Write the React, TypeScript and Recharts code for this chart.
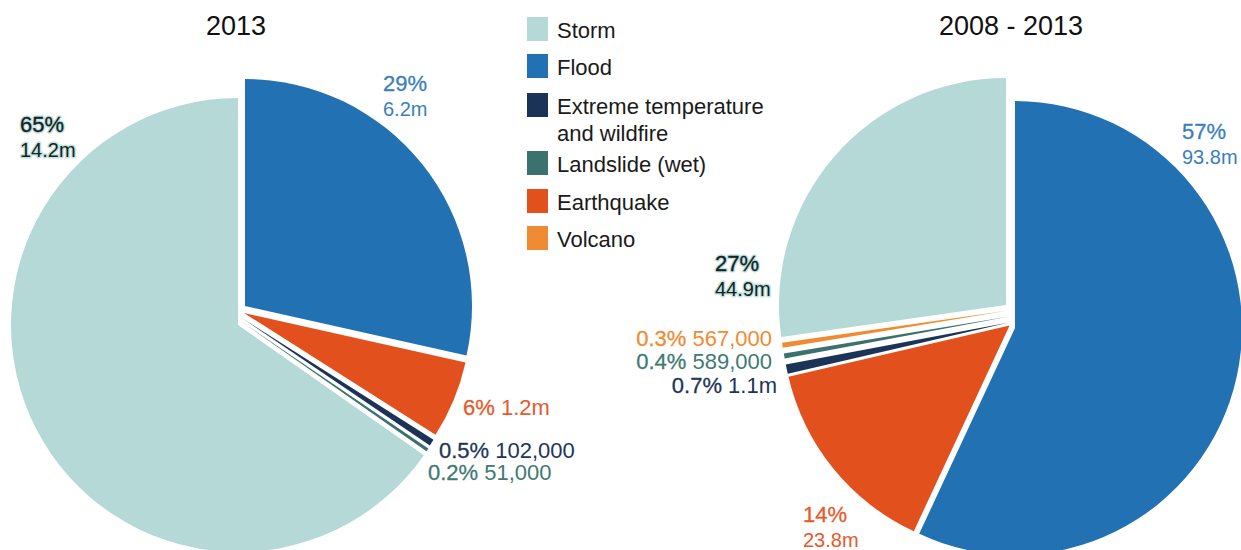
import React from "react";
import { PieChart, Pie, Cell, Sector } from "recharts";

// legend order
const categories = ["Storm", "Flood", "Extreme temperature and wildfire", "Landslide (wet)", "Earthquake", "Volcano"];

// 2013, clockwise from 12 o'clock (people displaced, millions)
const slices2013 = ["Flood", "Earthquake", "Extreme temperature and wildfire", "Landslide (wet)", "Storm"];
const displaced2013 = [6.2, 1.2, 0.102, 0.051, 14.2];
const share2013 = ["29%", "6%", "0.5%", "0.2%", "65%"];
const count2013 = ["6.2m", "1.2m", "102,000", "51,000", "14.2m"];

// 2008 - 2013
const slices0813 = ["Flood", "Earthquake", "Extreme temperature and wildfire", "Landslide (wet)", "Volcano", "Storm"];
const displaced0813 = [93.8, 23.8, 1.1, 0.589, 0.567, 44.9];
const share0813 = ["57%", "14%", "0.7%", "0.4%", "0.3%", "27%"];
const count0813 = ["93.8m", "23.8m", "1.1m", "589,000", "567,000", "44.9m"];

const COLORS: Record<string, string> = {
  Storm: "#b5d9d7",
  Flood: "#2271b3",
  "Extreme temperature and wildfire": "#1b3357",
  "Landslide (wet)": "#3b726d",
  Earthquake: "#e2511d",
  Volcano: "#ef8c33",
};

const TEXT_COLORS: Record<string, string> = {
  Storm: "#112420",
  Flood: "#3a7ec1",
  "Extreme temperature and wildfire": "#1d3559",
  "Landslide (wet)": "#3f7a74",
  Earthquake: "#e8592a",
  Volcano: "#ef8c33",
};

// small nudges that pull the sectors apart
const NUDGE_2013: Record<string, [number, number]> = {
  Flood: [4, -10],
  Earthquake: [3, -3],
  "Extreme temperature and wildfire": [1, 2],
  "Landslide (wet)": [-0.5, 5],
  Storm: [-3, 9],
};
const NUDGE_0813: Record<string, [number, number]> = {
  Flood: [4, 12],
  Earthquake: [-1.4, 9.5],
  "Extreme temperature and wildfire": [-2.1, 6.6],
  "Landslide (wet)": [-3.2, 0.7],
  Volcano: [-4.2, -5.2],
  Storm: [-5, -11],
};

type LabelSpot = { x: number; y: number; stack?: boolean; anchor?: "start" | "end" };
const LABELS_2013: LabelSpot[] = [
  { x: 383, y: 91, stack: true },
  { x: 463, y: 415 },
  { x: 439, y: 458 },
  { x: 428, y: 480 },
  { x: 20, y: 132, stack: true },
];
const LABELS_0813: LabelSpot[] = [
  { x: 1182, y: 139, stack: true },
  { x: 803, y: 522, stack: true },
  { x: 777, y: 393, anchor: "end" },
  { x: 772, y: 369, anchor: "end" },
  { x: 772, y: 346, anchor: "end" },
  { x: 715, y: 271, stack: true },
];

const LEGEND_TOPS = [17, 54, 93, 151, 189, 226];
const FONT = "'Liberation Sans', Arial, sans-serif";

const data2013 = slices2013.map((name, i) => ({ name, value: displaced2013[i] }));
const data0813 = slices0813.map((name, i) => ({ name, value: displaced0813[i] }));

function nudgedSector(nudge: Record<string, [number, number]>) {
  return (props: any) => {
    const [dx, dy] = nudge[props.name] ?? [0, 0];
    return <Sector {...props} cx={props.cx + dx} cy={props.cy + dy} stroke="none" />;
  };
}

function sliceLabel(names: string[], spots: LabelSpot[], shares: string[], counts: string[]) {
  return (props: any) => {
    const i = props.index;
    const spot = spots[i];
    const name = names[i];
    const color = TEXT_COLORS[name];
    const halo = name === "Storm";
    const anchor = spot.anchor ?? "start";
    const lines = (fill: string, stroke: string, sw: number, pw: number) =>
      spot.stack ? (
        <>
          <text x={spot.x} y={spot.y} fontSize={22} fill={fill} stroke={stroke} strokeWidth={pw} strokeLinejoin="round" paintOrder="stroke">
            {shares[i]}
          </text>
          <text x={spot.x} y={spot.y + 25} fontSize={20} fill={fill} stroke={stroke} strokeWidth={sw} strokeLinejoin="round" paintOrder="stroke">
            {counts[i]}
          </text>
        </>
      ) : (
        <text x={spot.x} y={spot.y} textAnchor={anchor} fill={fill} fontSize={22}>
          <tspan stroke={stroke} strokeWidth={pw} strokeLinejoin="round" paintOrder="stroke">{shares[i]}</tspan>
          <tspan stroke={stroke} strokeWidth={sw} strokeLinejoin="round" paintOrder="stroke"> {counts[i]}</tspan>
        </text>
      );
    return (
      <g fontFamily={FONT}>
        {halo && lines("none", "#c4e2e0", 3, 3)}
        {lines(color, color, 0, 0.3)}
      </g>
    );
  };
}

function LegendBox() {
  return (
    <div style={{ position: "absolute", left: 527, top: 0, fontFamily: FONT, fontSize: 22, color: "#1a1a1a" }}>
      {categories.map((c, i) => (
        <div key={c} style={{ position: "absolute", top: LEGEND_TOPS[i], left: 0, display: "flex", alignItems: "flex-start", width: 240 }}>
          <div style={{ width: 21, height: 24, background: COLORS[c], flexShrink: 0 }} />
          <div style={{ marginLeft: 9, lineHeight: "27px", width: 210 }}>
            {c === "Extreme temperature and wildfire" ? (
              <>
                Extreme temperature
                <br />
                and wildfire
              </>
            ) : (
              c
            )}
          </div>
        </div>
      ))}
    </div>
  );
}

const titleStyle: React.CSSProperties = {
  position: "absolute",
  top: 11,
  width: 300,
  textAlign: "center",
  fontFamily: FONT,
  fontSize: 27,
  lineHeight: "30px",
  color: "#111",
};

export default function App() {
  return (
    <div style={{ position: "absolute", left: 0, top: 0, width: 1241, height: 550, background: "#fff", overflow: "hidden" }}>
      <PieChart width={1241} height={550} margin={{ top: 0, right: 0, bottom: 0, left: 0 }}>
        <Pie
          data={data2013}
          dataKey="value"
          nameKey="name"
          cx={241}
          cy={316}
          outerRadius={227}
          startAngle={90}
          endAngle={-270}
          stroke="none"
          shape={nudgedSector(NUDGE_2013)}
          label={sliceLabel(slices2013, LABELS_2013, share2013, count2013)}
          labelLine={false}
          isAnimationActive={false}
        >
          {data2013.map((d) => (
            <Cell key={d.name} fill={COLORS[d.name]} />
          ))}
        </Pie>
        <Pie
          data={data0813}
          dataKey="value"
          nameKey="name"
          cx={1011}
          cy={316}
          outerRadius={227}
          startAngle={90}
          endAngle={-270}
          stroke="none"
          shape={nudgedSector(NUDGE_0813)}
          label={sliceLabel(slices0813, LABELS_0813, share0813, count0813)}
          labelLine={false}
          isAnimationActive={false}
        >
          {data0813.map((d) => (
            <Cell key={d.name} fill={COLORS[d.name]} />
          ))}
        </Pie>
      </PieChart>
      <div style={{ ...titleStyle, left: 236 - 150 }}>2013</div>
      <div style={{ ...titleStyle, left: 1011 - 150 }}>2008 - 2013</div>
      <LegendBox />
    </div>
  );
}
